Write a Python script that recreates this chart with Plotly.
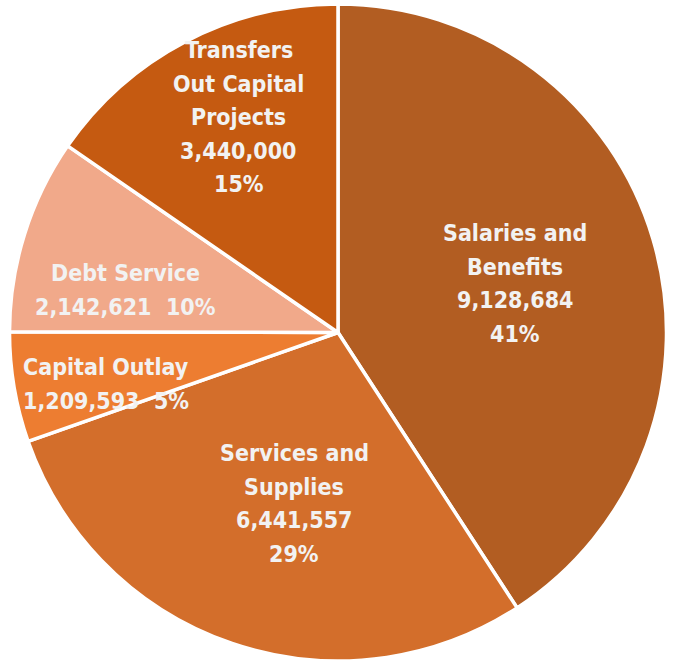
import plotly.graph_objects as go

# Expenditure categories (clockwise from 12 o'clock)
categories = [
    "Salaries and Benefits",
    "Services and Supplies",
    "Capital Outlay",
    "Debt Service",
    "Transfers Out Capital Projects",
]
amounts = [9128684, 6441557, 1209593, 2142621, 3440000]
slice_colors = ["#B25D22", "#D36E2B", "#ED7D31", "#F1A98A", "#C55A11"]

# How each label is broken into lines
name_lines = [
    ["Salaries and", "Benefits"],
    ["Services and", "Supplies"],
    ["Capital Outlay"],
    ["Debt Service"],
    ["Transfers", "Out Capital", "Projects"],
]
# Whether amount and percent share one line
inline_pct = [False, False, True, True, False]
# Label block: centre x and first-line y in pixels (from left / top)
label_px = [(515, 233), (294, 453), (106, 367), (126, 273), (239, 50)]
LINE_GAP = 33.5

W, H = 674, 662
total = sum(amounts)

fig = go.Figure(
    go.Pie(
        labels=categories,
        values=amounts,
        sort=False,
        direction="clockwise",
        rotation=0,
        marker=dict(colors=slice_colors, line=dict(color="white", width=3.5)),
        textinfo="none",
        hoverinfo="skip",
        domain=dict(x=[(338 - 329) / W, (338 + 329) / W], y=[1 - 661 / H, 1 - 4 / H]),
        showlegend=False,
    )
)

label_font = dict(
    family="DejaVu Sans Condensed, Liberation Sans Narrow, Arial Narrow, sans-serif",
    size=23,
    color="#F2F2F2",
)

for names, amt, inline, (px, py) in zip(name_lines, amounts, inline_pct, label_px):
    pct = f"{round(amt / total * 100)}%"
    val = f"{amt:,}"
    lines = list(names)
    if inline:
        lines.append(f"{val}  {pct}")
    else:
        lines += [val, pct]
    for i, ln in enumerate(lines):
        fig.add_annotation(
            x=px / W,
            y=1 - (py + i * LINE_GAP) / H,
            xref="paper",
            yref="paper",
            xanchor="center",
            yanchor="middle",
            showarrow=False,
            text=f"<b>{ln}</b>",
            font=label_font,
        )

fig.update_layout(
    width=W,
    height=H,
    margin=dict(l=0, r=0, t=0, b=0),
    paper_bgcolor="white",
    plot_bgcolor="white",
)

fig.write_html("out.html")
